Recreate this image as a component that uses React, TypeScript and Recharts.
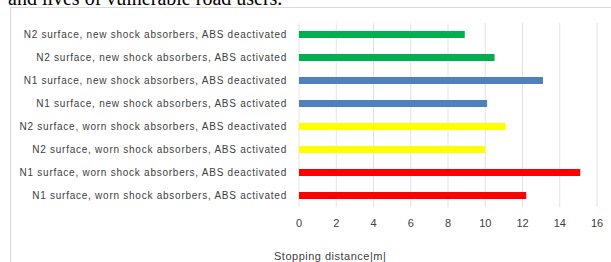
import React from 'react';
import { BarChart, Bar, XAxis, YAxis, CartesianGrid, Cell } from 'recharts';

const categories = [
  'N2 surface, new shock absorbers, ABS deactivated',
  'N2 surface, new shock absorbers, ABS activated',
  'N1 surface, new shock absorbers, ABS deactivated',
  'N1 surface, new shock absorbers, ABS activated',
  'N2 surface, worn shock absorbers, ABS deactivated',
  'N2 surface, worn shock absorbers, ABS activated',
  'N1 surface, worn shock absorbers, ABS deactivated',
  'N1 surface, worn shock absorbers, ABS activated',
];
const distances = [8.9, 10.5, 13.1, 10.1, 11.1, 10.0, 15.1, 12.2];
const tickValues = [0, 2, 4, 6, 8, 10, 12, 14, 16];
const axisTitle = 'Stopping distance|m|';
const headerText = 'and lives of vulnerable road users.';

const barColors = ['#00b050', '#00b050', '#4f81bd', '#4f81bd', '#ffff00', '#ffff00', '#ff0000', '#ff0000'];

const data = categories.map((name, i) => ({ name, value: distances[i] }));

const font = '"Liberation Sans", Arial, sans-serif';

const CategoryTick = (props: any) => {
  const { x, y, payload } = props;
  return (
    <text
      x={x}
      y={y}
      dy="0.355em"
      textAnchor="end"
      fontFamily={font}
      fontSize={10}
      letterSpacing={0.75}
      fill="#404040"
    >
      {payload.value}
    </text>
  );
};

export default function App() {
  return (
    <div style={{ position: 'fixed', left: 0, top: 0, width: 611, height: 262, overflow: 'hidden', background: '#fff' }}>
      <div style={{ position: 'absolute', left: 8, top: -12, fontFamily: '"Liberation Serif", serif', fontSize: 20, lineHeight: '20px', whiteSpace: 'nowrap', color: '#000' }}>
        {headerText}
      </div>
      <div style={{ position: 'absolute', left: 10, top: 7, width: 601, height: 255, borderTop: '1px solid #d9d9d9', borderLeft: '1px solid #d9d9d9', boxSizing: 'border-box' }}>
        <BarChart width={600} height={254} data={data} layout="vertical" margin={{ top: 15, right: 14, bottom: 25, left: 0 }}>
          <CartesianGrid horizontal={false} stroke="#e3e3e3" />
          <XAxis
            type="number"
            domain={[0, 16]}
            ticks={tickValues}
            axisLine={false}
            tickLine={false}
            tickSize={0}
            tickMargin={12}
            height={30}
            interval={0}
            tick={{ fontFamily: font, fontSize: 11, fill: '#404040' }}
          />
          <YAxis
            type="category"
            dataKey="name"
            width={288}
            axisLine={false}
            tickLine={false}
            tickSize={0}
            tickMargin={12}
            interval={0}
            tick={<CategoryTick />}
          />
          <Bar dataKey="value" barSize={7} isAnimationActive={false}>
            {data.map((d, i) => (
              <Cell key={d.name} fill={barColors[i]} />
            ))}
          </Bar>
        </BarChart>
      </div>
      <div style={{ position: 'absolute', left: 274, top: 249, fontFamily: font, fontSize: 11, letterSpacing: 0.5, lineHeight: '14px', color: '#404040', whiteSpace: 'nowrap' }}>
        {axisTitle}
      </div>
    </div>
  );
}
